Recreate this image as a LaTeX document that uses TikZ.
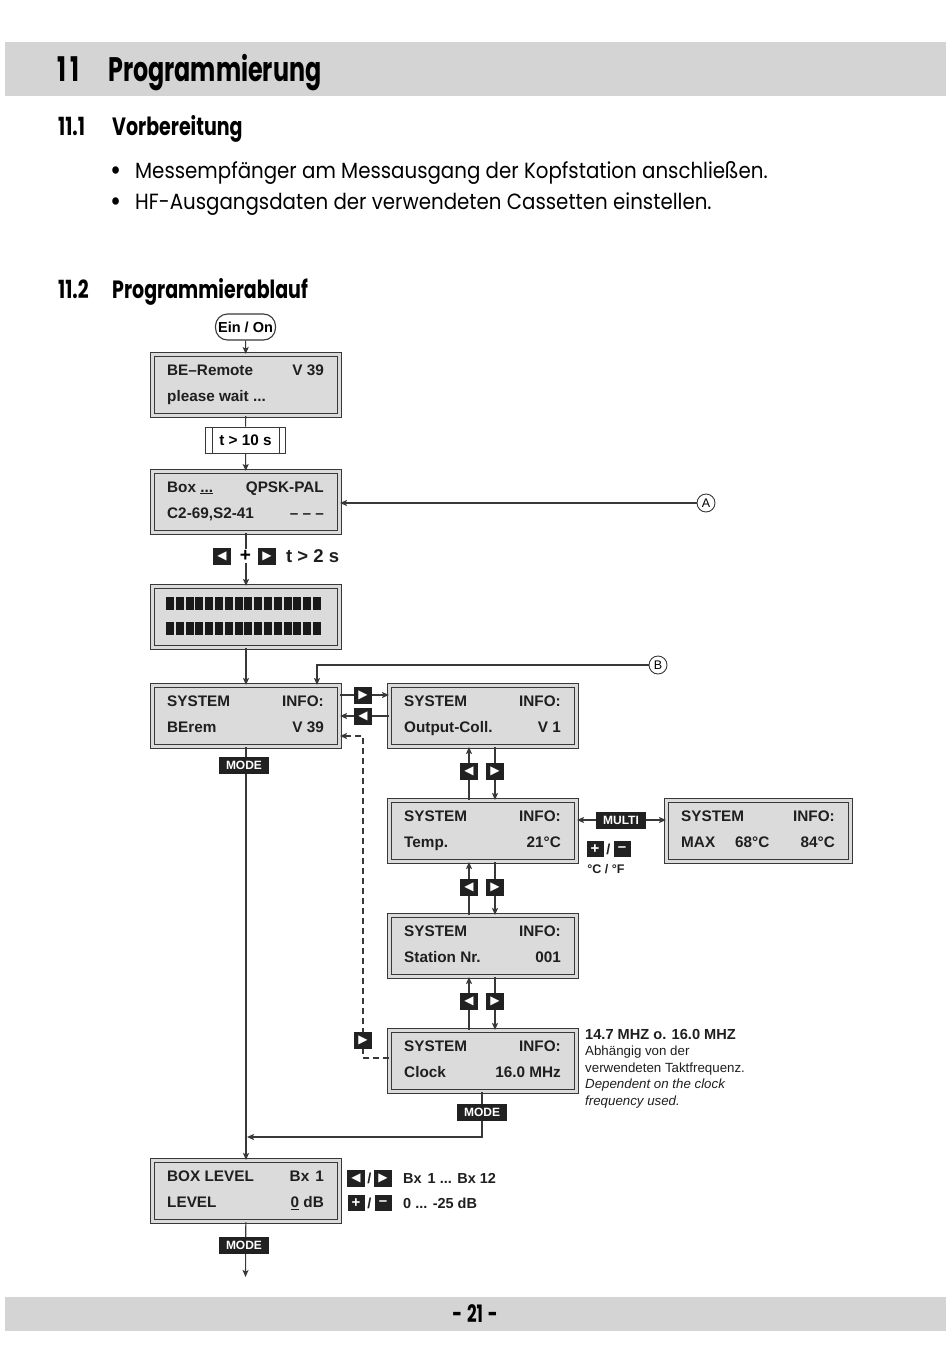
\documentclass[tikz,border=0pt]{standalone}
\usepackage{fontspec}
\setmainfont{Liberation Sans}
\newfontfamily\headfont[FakeStretch=0.7]{Poppins}
\newfontfamily\subfont[FakeStretch=0.76]{Poppins}
\newfontfamily\bodyfont[FakeStretch=0.9]{Poppins}
\newfontfamily\symfont{DejaVu Sans}
\usetikzlibrary{arrows.meta,calc}
\definecolor{band}{gray}{0.83}
\definecolor{lcdfill}{gray}{0.86}
\definecolor{keyblk}{gray}{0.13}
\definecolor{ln}{gray}{0.22}
\newcommand\mylcd[8]{%
  \node[lcdframe, minimum width=#4pt] (#1) at (#2,#3) {};
  \node[lt, anchor=base west] (#1tl) at (#2+15,#3+21) {#5};
  \node[lt, anchor=base east] (#1tr) at (#2+#4-15,#3+21) {#6};
  \node[lt, anchor=base west] (#1bl) at (#2+15,#3+47.5) {#7};
  \node[lt, anchor=base east] (#1br) at (#2+#4-15,#3+47.5) {#8};
}
\begin{document}
\begin{tikzpicture}[x=1pt,y=-1pt,
  lcdframe/.style={draw=ln, line width=1pt, double=lcdfill, double distance=2.6pt, fill=lcdfill, minimum height=61pt, anchor=north west, inner sep=0pt},
  lt/.style={font=\bfseries\fontsize{15.3}{15.3}\selectfont, inner sep=0pt, text=black!88},
  arr/.style={-{Stealth[length=7pt,width=6pt,inset=1.5pt]}},
  conn/.style={draw=ln, line width=1.1pt},
  keyk/.style={fill=keyblk, minimum width=18pt, minimum height=17pt, inner sep=0pt, text=white, font=\symfont\fontsize{12}{12}\selectfont},
  pmkey/.style={fill=keyblk, minimum width=17pt, minimum height=16pt, inner sep=0pt, text=white, font=\bfseries\fontsize{15}{15}\selectfont},
  modekey/.style={fill=keyblk, minimum width=50pt, minimum height=17pt, inner sep=0pt, text=white, font=\bfseries\fontsize{12}{12}\selectfont},
  circ/.style={circle, draw=ln, line width=0.9pt, fill=white, minimum size=18pt, inner sep=0pt, font=\fontsize{12.5}{12.5}\selectfont},
  lbl/.style={inner sep=0pt, font=\bfseries\fontsize{14.5}{14.5}\selectfont, text=black!88}
]
\useasboundingbox (0,0) rectangle (950,1357);
\fill[white] (0,0) rectangle (950,1357);
% header
\node[fill=band, minimum width=941pt, minimum height=54pt, anchor=north west, inner sep=0pt] (hdr) at (5,42) {};
\node[anchor=base west, inner sep=0pt, font=\headfont\bfseries\fontsize{34}{34}\selectfont] (h1n) at (57,81) {1\hspace{4pt}1};
\node[anchor=base west, inner sep=0pt, font=\headfont\bfseries\fontsize{34}{34}\selectfont] (h1) at (108,81) {Programmierung};
\node[anchor=base west, inner sep=0pt, font=\subfont\bfseries\fontsize{25}{25}\selectfont] (h2n) at (58,135) {11.1};
\node[anchor=base west, inner sep=0pt, font=\subfont\bfseries\fontsize{25}{25}\selectfont] (h2) at (112,135) {Vorbereitung};
\node[anchor=base, inner sep=0pt, font=\bodyfont\fontsize{30}{30}\selectfont] (d1) at (116,180) {•};
\node[anchor=base west, inner sep=0pt, font=\bodyfont\fontsize{22}{22}\selectfont] (bu1) at (135,178) {Messempfänger am Messausgang der Kopfstation anschließen.};
\node[anchor=base, inner sep=0pt, font=\bodyfont\fontsize{30}{30}\selectfont] (d2) at (116,211) {•};
\node[anchor=base west, inner sep=0pt, font=\bodyfont\fontsize{22}{22}\selectfont] (bu2) at (135,209) {HF-Ausgangsdaten der verwendeten Cassetten einstellen.};
\node[anchor=base west, inner sep=0pt, font=\subfont\bfseries\fontsize{25}{25}\selectfont] (h3n) at (58,298) {11.2};
\node[anchor=base west, inner sep=0pt, font=\subfont\bfseries\fontsize{25}{25}\selectfont] (h3) at (112,298) {Programmierablauf};
% footer
\node[fill=band, minimum width=941pt, minimum height=34pt, anchor=north west, inner sep=0pt] (ftr) at (5,1297) {};
\node[inner sep=0pt, font=\headfont\bfseries\fontsize{24}{24}\selectfont] (pg) at (475,1314) {-\hspace{5pt}21\hspace{5pt}-};

% start
\node[draw=ln, line width=1.1pt, rounded corners=12pt, minimum width=60pt, minimum height=26pt, inner sep=0pt, font=\bfseries\fontsize{14.5}{14.5}\selectfont] (ein) at (245.5,327) {Ein / On};
\mylcd{b1}{152}{354}{187}{BE–Remote}{V 39}{please wait ...}{}
\node[draw=ln, line width=0.9pt, minimum width=80pt, minimum height=26pt, inner sep=0pt, font=\bfseries\fontsize{15.3}{15.3}\selectfont] (t10) at (245.5,440) {t > 10 s};
\draw[ln, line width=0.9pt] ([xshift=7pt]t10.north west) -- ([xshift=7pt]t10.south west);
\draw[ln, line width=0.9pt] ([xshift=-7pt]t10.north east) -- ([xshift=-7pt]t10.south east);
\mylcd{b2}{152}{471}{187}{Box \underline{...}}{QPSK-PAL}{C2-69,S2-41}{– – –}
\node[lcdframe, minimum width=187pt] (b3) at (152,586) {};
\foreach \i in {0,...,15}{
  \fill[black!90] (166+\i*9.8,597) rectangle ++(8,13);
  \fill[black!90] (166+\i*9.8,622) rectangle ++(8,13);
}
\mylcd{b4}{152}{685}{187}{SYSTEM}{INFO:}{BErem}{V 39}
\mylcd{b5}{389}{685}{187}{SYSTEM}{INFO:}{Output-Coll.}{V 1}
\mylcd{b6}{389}{800}{187}{SYSTEM}{INFO:}{Temp.}{21°C}
\mylcd{b8}{666}{800}{184}{SYSTEM}{INFO:}{MAX\hspace{20pt}68°C}{84°C}
\mylcd{b7}{389}{915}{187}{SYSTEM}{INFO:}{Station Nr.}{001}
\mylcd{b9}{389}{1030}{187}{SYSTEM}{INFO:}{Clock}{16.0 MHz}
\mylcd{b10}{152}{1160}{187}{BOX LEVEL}{Bx\hspace{6pt}1}{LEVEL}{\underline{0} dB}

% circles
\node[circ] (A) at (706,503) {A};
\node[circ] (B) at (658,665) {B};

% connectors
\draw[conn, arr] (ein) -- (b1);
\draw[conn] (b1) -- (t10);
\draw[conn, arr] (t10) -- (b2);
\draw[conn, arr] (A) -- (b2.east |- A);
\draw[conn, arr] (b2) -- (b3);
\draw[conn, arr] (b3) -- (b4);
\draw[conn, arr] (B) -| (b4.north -| 317,0);
\draw[conn, arr] (b4.east |- 0,695) -- (b5.west |- 0,695);
\draw[conn, arr] (b5.west |- 0,716) -- (b4.east |- 0,716);
\draw[conn, arr, dashed, dash pattern=on 6pt off 4pt] (b9.west |- 0,1058) -- (363,1058) -- (363,736) -- (b4.east |- 0,736);
\draw[conn, arr] (b6.north -| 469,0) -- (b5.south -| 469,0);
\draw[conn, arr] (b5.south -| 495,0) -- (b6.north -| 495,0);
\draw[conn, arr] (b7.north -| 469,0) -- (b6.south -| 469,0);
\draw[conn, arr] (b6.south -| 495,0) -- (b7.north -| 495,0);
\draw[conn, arr] (b9.north -| 469,0) -- (b7.south -| 469,0);
\draw[conn, arr] (b7.south -| 495,0) -- (b9.north -| 495,0);
\draw[conn, {Stealth[length=7pt,width=6pt,inset=1.5pt]}-{Stealth[length=7pt,width=6pt,inset=1.5pt]}] (b6.east |- 0,820) -- (b8.west |- 0,820);
\draw[conn, arr] (b4) -- (b10);
\coordinate (j) at (247,1137);
\draw[conn, arr] (b9.south -| 482,0) -- (482,1137) -- (j);
\coordinate (endp) at (245.5,1277);
\draw[conn, arr] (b10) -- (endp);

% keys
\node[keyk] (k1) at (222,556) {◀};
\node[fill=white, inner sep=1pt, font=\bfseries\fontsize{19}{19}\selectfont] (plus1) at (245.5,556) {+};
\node[keyk] (k2) at (267,556) {▶};
\node[anchor=west, inner sep=0pt, font=\bfseries\fontsize{18.5}{18.5}\selectfont, text=black!88] (t2) at (286,556) {t > 2 s};
\node[keyk] (k3) at (363,695) {▶};
\node[keyk] (k4) at (363,716) {◀};
\node[keyk] (k5) at (469,771) {◀};
\node[keyk] (k6) at (495,771) {▶};
\node[keyk] (k7) at (469,887) {◀};
\node[keyk] (k8) at (495,887) {▶};
\node[keyk] (k9) at (469,1001) {◀};
\node[keyk] (k10) at (495,1001) {▶};
\node[keyk] (k11) at (363,1040) {▶};
\node[modekey] (m1) at (244,765) {MODE};
\node[modekey] (m2) at (482,1112) {MODE};
\node[modekey] (m3) at (244,1245) {MODE};
\node[modekey] (multi) at (621,820) {MULTI};
\node[pmkey] (p1) at (595,849) {+};
\node[lbl] (s1) at (608.5,849) {/};
\node[pmkey] (p2) at (622,849) {–};
\node[lbl, font=\bfseries\fontsize{12.5}{12.5}\selectfont] (cf) at (606,869) {°C / °F};

% clock note
\node[anchor=north west, inner sep=0pt, align=left, text=black!88, font=\fontsize{13.3}{16.5}\selectfont] (note) at (585,1029)
 {{\bfseries\fontsize{14.6}{16.5}\selectfont 14.7 MHZ o. 16.0 MHZ}\\
  Abhängig von der\\
  verwendeten Taktfrequenz.\\
  \itshape Dependent on the clock\\
  \itshape frequency used.};

% level keys
\node[keyk] (k12) at (356,1178) {◀};
\node[lbl] (s2) at (369.5,1178) {/};
\node[keyk] (k13) at (383,1178) {▶};
\node[lbl, anchor=west] (bx) at (403,1178) {Bx\hspace{6pt}1 ... Bx 12};
\node[pmkey] (p3) at (356,1203) {+};
\node[lbl] (s3) at (369.5,1203) {/};
\node[pmkey] (p4) at (383,1203) {–};
\node[lbl, anchor=west] (db) at (403,1203) {0 ... -25 dB};
\end{tikzpicture}
\end{document}
